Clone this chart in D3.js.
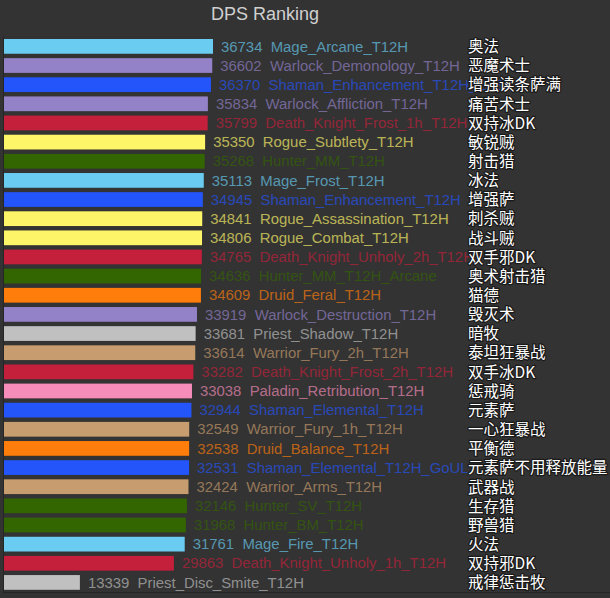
<!DOCTYPE html>
<html><head><meta charset="utf-8">
<script src="https://cdn.jsdelivr.net/npm/d3@7"></script>
<style>
html,body{margin:0;padding:0;background:#333333;}
svg{display:block;}
</style></head>
<body>
<svg id="chart" width="610" height="598"></svg>
<script>
const specs = ["Mage_Arcane_T12H","Warlock_Demonology_T12H","Shaman_Enhancement_T12H_ELE","Warlock_Affliction_T12H","Death_Knight_Frost_1h_T12H","Rogue_Subtlety_T12H","Hunter_MM_T12H","Mage_Frost_T12H","Shaman_Enhancement_T12H","Rogue_Assassination_T12H","Rogue_Combat_T12H","Death_Knight_Unholy_2h_T12H","Hunter_MM_T12H_Arcane","Druid_Feral_T12H","Warlock_Destruction_T12H","Priest_Shadow_T12H","Warrior_Fury_2h_T12H","Death_Knight_Frost_2h_T12H","Paladin_Retribution_T12H","Shaman_Elemental_T12H","Warrior_Fury_1h_T12H","Druid_Balance_T12H","Shaman_Elemental_T12H_GoUL","Warrior_Arms_T12H","Hunter_SV_T12H","Hunter_BM_T12H","Mage_Fire_T12H","Death_Knight_Unholy_1h_T12H","Priest_Disc_Smite_T12H"];
const dps = [36734,36602,36370,35834,35799,35350,35268,35113,34945,34841,34806,34765,34636,34609,33919,33681,33614,33282,33038,32944,32549,32538,32531,32424,32146,31968,31761,29863,13339];
const cnNames = ["奥法","恶魔术士","增强读条萨满","痛苦术士","双持冰DK","敏锐贼","射击猎","冰法","增强萨","刺杀贼","战斗贼","双手邪DK","奥术射击猎","猫德","毁灭术","暗牧","泰坦狂暴战","双手冰DK","惩戒骑","元素萨","一心狂暴战","平衡德","元素萨不用释放能量","武器战","生存猎","野兽猎","火法","双持邪DK","戒律惩击牧"];
const classes = ["Mage","Warlock","Shaman","Warlock","DeathKnight","Rogue","Hunter","Mage","Shaman","Rogue","Rogue","DeathKnight","Hunter","Druid","Warlock","Priest","Warrior","DeathKnight","Paladin","Shaman","Warrior","Druid","Shaman","Warrior","Hunter","Hunter","Mage","DeathKnight","Priest"];
const classNames = ["Mage","Warlock","Shaman","DeathKnight","Rogue","Hunter","Druid","Priest","Warrior","Paladin"];
const classColors = ["#69CCF0","#9482C9","#2355FA","#C41F3B","#FFF569","#336600","#FF7D0A","#C0C0C0","#C79C6E","#F58CBA"];

const rows = specs.map((s,i)=>({spec:s, dps:dps[i], cn:cnNames[i], cls:classes[i]}));
const svg = d3.select("#chart");
const color = d3.scaleOrdinal().domain(classNames).range(classColors);
const x = d3.scaleLinear().domain([0, d3.max(dps)]).range([4, 213]);
const y = d3.scaleBand().domain(d3.range(rows.length)).range([36.8, 592]).paddingInner(0.23).paddingOuter(0.115);

svg.append("text").attr("x",265).attr("y",19.5).attr("text-anchor","middle")
  .attr("font-family","Liberation Sans, Arial, sans-serif").attr("font-size",18)
  .attr("fill","#d0d0d0").text("DPS Ranking");

// axis lines
svg.append("line").attr("x1",3.5).attr("x2",3.5).attr("y1",36).attr("y2",592.5).attr("stroke","#262626").attr("stroke-width",1);
svg.append("line").attr("x1",3).attr("x2",610).attr("y1",592.5).attr("y2",592.5).attr("stroke","#262626").attr("stroke-width",1);

const g = svg.append("g");
g.selectAll("rect").data(rows).join("rect")
  .attr("x", x(0)).attr("y",(d,i)=>y(i))
  .attr("width", d=>x(d.dps)-x(0)).attr("height", y.bandwidth())
  .attr("fill", d=>color(d.cls));

g.selectAll("text.val").data(rows).join("text").attr("class","val")
  .attr("x", d=>x(d.dps)+8).attr("y",(d,i)=>y(i)+y.bandwidth()/2+5.2)
  .attr("font-family","Liberation Sans, Arial, sans-serif").attr("font-size",14.9)
  .attr("fill", d=>color(d.cls)).attr("fill-opacity",0.68)
  .style("white-space","pre")
  .text(d=>d.dps + "  " + d.spec);

g.selectAll("text.cn").data(rows).join("text").attr("class","cn")
  .attr("x", 468).attr("y",(d,i)=>y(i)+y.bandwidth()/2+5.8)
  .attr("font-family","Noto Sans CJK SC, sans-serif").attr("font-size",15.5)
  .attr("fill","#ffffff").attr("stroke","#1a1a1a").attr("stroke-width",2.5)
  .attr("paint-order","stroke").attr("stroke-linejoin","round")
  .text(d=>d.cn);
</script>
</body></html>
